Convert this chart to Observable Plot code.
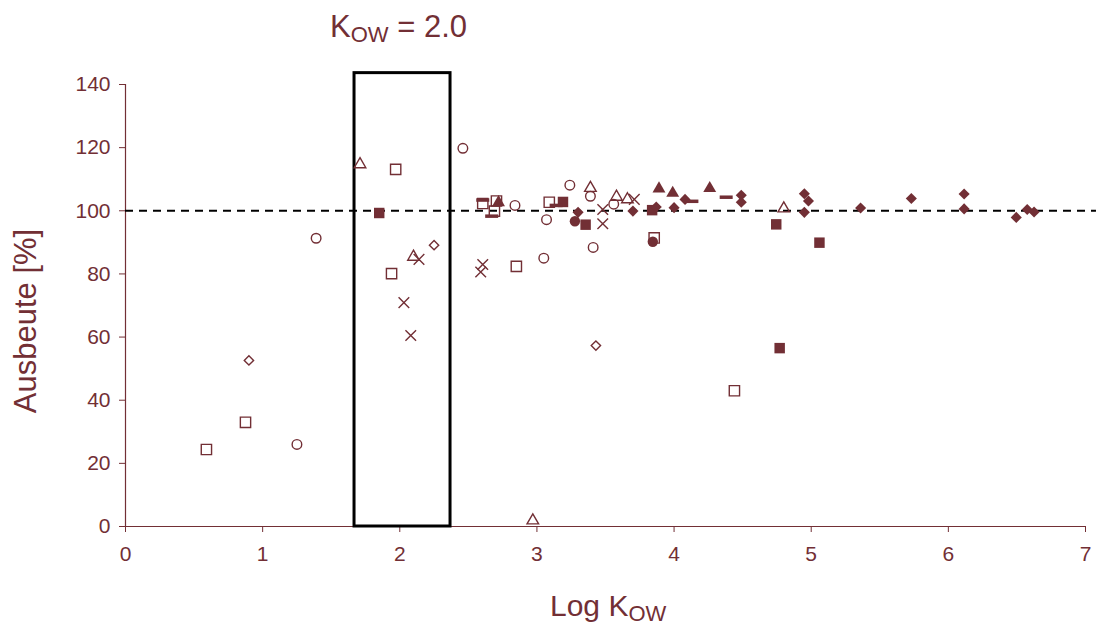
<!DOCTYPE html>
<html>
<head>
<meta charset="utf-8">
<script src="https://cdn.jsdelivr.net/npm/d3@7"></script>
<script src="https://cdn.jsdelivr.net/npm/@observablehq/plot@0.6"></script>
<style>
  html, body { margin: 0; padding: 0; background: #fff; }
  #chart { width: 1096px; height: 628px; }
</style>
</head>
<body>
<div id="chart"></div>
<script>
// ---- data (Log Kow, Ausbeute %) ----
const openDiamond = [[0.90,52.6],[2.25,89.1],[3.43,57.3]];
const openSquare = [[0.59,24.4],[0.875,33.0],[1.97,113.1],[1.94,80.1],[2.605,102.3],[2.705,103.1],[2.69,99.9],[2.85,82.4],[3.09,102.7],[3.855,91.4],[4.44,43.0]];
const openTriangle = [[1.71,114.7],[2.10,85.4],[2.97,1.9],[3.39,107.2],[3.58,104.4],[3.66,103.6],[4.80,100.7]];
const openCircle = [[1.25,26.0],[1.39,91.3],[2.46,119.8],[2.84,101.7],[3.05,85.0],[3.07,97.2],[3.24,108.1],[3.39,104.6],[3.41,88.4],[3.56,102.1]];
const crossX = [[2.03,70.9],[2.08,60.5],[2.14,84.6],[2.59,80.6],[2.605,83.0],[3.48,100.4],[3.48,95.9],[3.71,103.6]];
const filledSquare = [[1.85,99.3],[3.19,102.8],[3.355,95.6],[3.84,100.2],[4.745,95.7],[4.77,56.5],[5.06,89.9]];
const filledCircle = [[3.277,96.7],[3.845,90.2]];
const filledTriangle = [[2.72,102.6],[3.89,107.0],[3.99,105.6],[4.26,107.1]];
const filledDiamond = [[3.30,99.5],[3.70,99.9],[3.87,101.2],[4.00,101.0],[4.08,103.6],[4.49,104.9],[4.49,102.7],[4.95,105.4],[4.98,103.1],[4.95,99.5],[5.36,100.9],[5.73,103.9],[6.115,105.3],[6.115,100.6],[6.495,97.9],[6.575,100.4],[6.625,99.6]];
const dashMark = [[2.605,103.4],[2.67,98.3],[3.14,101.7],[4.13,103.0],[4.38,104.3]];

const xTicks = [0,1,2,3,4,5,6,7];
const yTicks = [0,20,40,60,80,100,120,140];
const referenceLine = [100];
const kowWindow = [{x1: 1.67, x2: 2.37, y1: 0, y2: 143.6}];
const titleParts = ["K", "OW", " = 2.0"];
const xLabelParts = ["Log K", "OW"];
const yLabel = "Ausbeute [%]";

const C = "#722f35";

// custom horizontal dash symbol
const dashSymbol = {
  draw(ctx, size) {
    const w = 13, h = 3.5;
    ctx.moveTo(-w/2, -h/2); ctx.lineTo(w/2, -h/2); ctx.lineTo(w/2, h/2); ctx.lineTo(-w/2, h/2); ctx.closePath();
  }
};

const openOpts = {x: d => d[0], y: d => d[1], fill: "none", stroke: C, strokeWidth: 1.4};
const fillOpts = {x: d => d[0], y: d => d[1], fill: C, stroke: "none"};

const plot = Plot.plot({
  width: 1096,
  height: 628,
  marginLeft: 125,
  marginRight: 11,
  marginTop: 84,
  marginBottom: 102,
  style: {fontFamily: "'Liberation Sans', Arial, sans-serif", fontSize: "21px", color: C, background: "white", overflow: "visible"},
  x: {domain: [0, 7]},
  y: {domain: [0, 140]},
  marks: [
    Plot.axisX({ticks: xTicks, tickFormat: d3.format("d"), tickSize: 6, tickPadding: 14, label: null, stroke: C, fill: C, fontSize: 21}),
    Plot.axisY({ticks: yTicks, tickFormat: d3.format("d"), tickSize: 6, tickPadding: 9, label: null, stroke: C, fill: C, fontSize: 21}),
    Plot.ruleY([0], {stroke: C, strokeWidth: 1.2}),
    Plot.ruleX([0], {stroke: C, strokeWidth: 1.2}),
    Plot.ruleY(referenceLine, {x1: 0, x2: 7.08, stroke: "black", strokeWidth: 2, strokeDasharray: "8,6"}),
    Plot.rect(kowWindow, {x1: "x1", x2: "x2", y1: "y1", y2: "y2", fill: "none", stroke: "black", strokeWidth: 3}),
    Plot.dot(openDiamond, {...openOpts, symbol: "diamond2", r: 4.2}),
    Plot.dot(openSquare, {...openOpts, symbol: "square", r: 5.8}),
    Plot.dot(openTriangle, {...openOpts, symbol: "triangle", r: 4.3}),
    Plot.dot(openCircle, {...openOpts, symbol: "circle", r: 4.8}),
    Plot.dot(crossX, {...openOpts, symbol: "times", r: 4.9}),
    Plot.dot(filledSquare, {...fillOpts, symbol: "square", r: 5.9}),
    Plot.dot(filledCircle, {...fillOpts, symbol: "circle", r: 5.2}),
    Plot.dot(filledTriangle, {...fillOpts, symbol: "triangle", r: 4.8}),
    Plot.dot(filledDiamond, {...fillOpts, symbol: "diamond2", r: 5.0}),
    Plot.dot(dashMark, {...fillOpts, symbol: dashSymbol, r: 4})
  ]
});

document.getElementById("chart").appendChild(plot);

// text labels with subscripts
const svg = d3.select(plot);
const font = "'Liberation Sans', Arial, sans-serif";
const xs = plot.scale("x");

// title above the Kow window
const tx = xs.apply(kowWindow[0].x1) - 24;
const title = svg.append("text").attr("x", tx).attr("y", 37).attr("text-anchor", "start")
  .attr("fill", C).attr("font-family", font).attr("font-size", 31);
title.append("tspan").text(titleParts[0]);
title.append("tspan").attr("font-size", 22).attr("dy", 5).text(titleParts[1]);
title.append("tspan").attr("dy", -5).text(titleParts[2]);

// x axis label
const xl = svg.append("text").attr("x", 550).attr("y", 616).attr("text-anchor", "start")
  .attr("fill", C).attr("font-family", font).attr("font-size", 30);
xl.append("tspan").text(xLabelParts[0]);
xl.append("tspan").attr("font-size", 22).attr("dy", 5).text(xLabelParts[1]);

// y axis label
svg.append("text").attr("transform", "translate(36,321) rotate(-90)")
  .attr("text-anchor", "middle").attr("fill", C).attr("font-family", font).attr("font-size", 31)
  .text(yLabel);
</script>
</body>
</html>
